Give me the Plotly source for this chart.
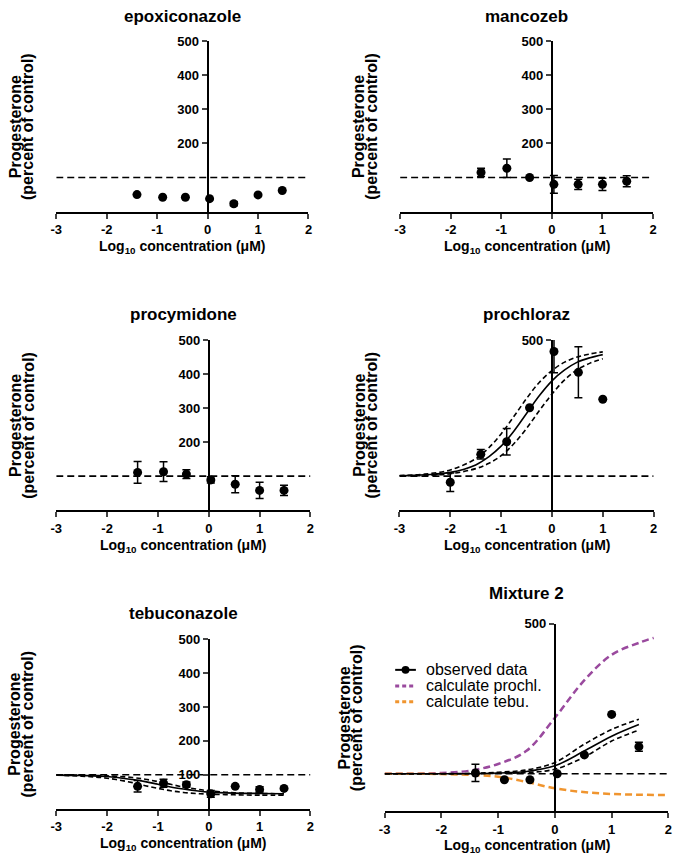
import plotly.graph_objects as go

W, H = 680, 861

# ---------------- data ----------------
conc = [-1.40, -0.89, -0.44, 0.04, 0.52, 1.00, 1.48]

epox_y = [50, 42, 42, 38, 23, 49, 62]
epox_err = [None, None, None, None, 6, None, None]

manc_y = [115, 127, 100, 80, 80, 80, 89]
manc_err = [12, 27, None, 26, 15, 18, 16]

procy_y = [111, 113, 106, 89, 76, 58, 58]
procy_err = [32, 29, 13, 9, 25, 24, 15]

prochl_x = [-2.00, -1.40, -0.89, -0.44, 0.04, 0.52, 1.00]
prochl_y = [82, 164, 201, 301, 466, 405, 326]
prochl_err = [27, 14, 39, None, 62, 75, None]
prochl_fit_x = [-3, -2.5, -2, -1.5, -1.25, -1, -0.75, -0.5, -0.25, 0, 0.25, 0.5, 0.75, 1]
prochl_fit = [101, 104, 111, 133, 156, 188, 232, 284, 336, 380, 412, 435, 448, 457]
prochl_hi = [102, 106, 118, 151, 182, 224, 275, 328, 375, 410, 435, 450, 459, 465]
prochl_lo = [101, 102, 107, 122, 137, 160, 195, 240, 292, 341, 383, 413, 432, 445]

tebu_y = [66, 75, 71, 44, 66, 57, 60]
tebu_err = [17, 12, 8, 10, None, 8, None]
tebu_fit_x = [-3, -2.5, -2, -1.5, -1.25, -1, -0.75, -0.5, -0.25, 0, 0.5, 1, 1.48]
tebu_fit = [99, 98, 95, 86, 80, 72, 64, 58, 53, 49, 46, 45, 44]
tebu_hi = [100, 99, 97, 92, 87, 80, 72, 64, 58, 53, 47, 45, 44]
tebu_lo = [99, 96, 90, 77, 68, 60, 53, 48, 45, 43, 41, 40, 40]

mix_y = [102, 84, 84, 100, 150, 258, 172]
mix_err = [23, None, None, None, None, None, 12]
mix_fit_x = [-3, -2, -1.5, -1, -0.5, 0, 0.5, 1, 1.48]
mix_fit = [100, 100, 100, 102, 106, 121, 159, 200, 231]
mix_hi = [100, 100, 101, 104, 110, 130, 177, 218, 245]
mix_lo = [100, 100, 100, 101, 103, 112, 143, 187, 216]

calc_prochl_x = [-3, -2.5, -2, -1.5, -1, -0.5, 0, 0.5, 1, 1.5, 1.74]
calc_prochl_y = [100, 100, 102, 108, 126, 161, 249, 346, 417, 450, 462]
calc_tebu_x = [-3, -2.5, -2, -1.5, -1, -0.5, 0, 0.5, 1, 1.5, 2]
calc_tebu_y = [100, 100, 99, 97, 92, 78, 61, 51, 46, 44, 43]

control_x = [-3, 2]
control_y = [100, 100]

x_ticks = [-3, -2, -1, 0, 1, 2]
x_ticktext = ["-3", "-2", "-1", "0", "1", "2"]

titles = ["epoxiconazole", "mancozeb", "procymidone", "prochloraz", "tebuconazole", "Mixture 2"]
ytick_sets = [[200, 300, 400, 500], [200, 300, 400, 500], [200, 300, 400, 500],
              [500], [100, 200, 300, 400, 500], [500]]

# ---------------- layout geometry (pixels) ----------------
# (x_left, x_right, y_top(=500), y_bottom(=0))
boxes = [
    (51, 307, 34.3, 206.3),
    (400, 656.7, 34.3, 206.3),
    (51, 309, 335.7, 507.3),
    (399.3, 657.3, 335.7, 507.3),
    (51, 309, 637.3, 808.3),
    (384.3, 672.3, 621.7, 810.8),
]
title_y = [10, 10, 310, 310, 611.7, 591.7]
ytitle_x = [9, 358, 9, 358, 9, 343]
xtitle_off = [36, 36, 36, 36, 36, 35]

FONT = "Liberation Sans, Arial, sans-serif"
fig = go.Figure()
layout = dict(
    width=W, height=H, margin=dict(l=0, r=0, t=0, b=0),
    paper_bgcolor="white", plot_bgcolor="white", showlegend=False,
    font=dict(family=FONT, color="black"),
)
annotations = []
shapes = []

for i, (xl, xr, yt, yb) in enumerate(boxes):
    n = i + 1
    xpos0 = xl + (xr - xl) * 3 / 5
    layout[f"xaxis{n}"] = dict(
        domain=[xl / W, xr / W], anchor=f"y{n}", range=[-3, 2],
        tickvals=x_ticks, ticktext=[f"<b>{t}</b>" for t in x_ticktext],
        ticks="outside", ticklen=5, tickwidth=1.5,
        showline=True, linewidth=2, linecolor="black", showgrid=False, zeroline=False,
        tickfont=dict(size=13, family=FONT), fixedrange=True,
        ticklabeloverflow="allow",
    )
    layout[f"yaxis{n}"] = dict(
        domain=[1 - yb / H, 1 - yt / H], anchor="free", position=xpos0 / W, range=[0, 500],
        tickvals=ytick_sets[i], ticktext=[f"<b>{v}</b>" for v in ytick_sets[i]],
        ticks="outside", ticklen=5, tickwidth=1.5,
        showline=True, linewidth=2, linecolor="black", showgrid=False, zeroline=False,
        tickfont=dict(size=13, family=FONT), fixedrange=True,
        ticklabeloverflow="allow",
    )
    annotations.append(dict(
        x=(xl + xr) / 2 / W, y=1 - title_y[i] / H, xref="paper", yref="paper",
        text=f"<b>{titles[i]}</b>", showarrow=False, font=dict(size=17, family=FONT),
        xanchor="center", yanchor="middle"))
    annotations.append(dict(
        x=(xl + xr) / 2 / W, y=1 - (yb + xtitle_off[i]) / H, xref="paper", yref="paper",
        text="<b>Log<sub>10</sub> concentration (μM)</b>", showarrow=False,
        font=dict(size=14, family=FONT), xanchor="center", yanchor="middle"))
    for k, line in enumerate(["Progesterone", "(percent of control)"]):
        annotations.append(dict(
            x=(ytitle_x[i] + 13 * k) / W, y=1 - (yt + yb) / 2 / H, xref="paper", yref="paper",
            text=f"<b>{line}</b>", showarrow=False, textangle=-90,
            font=dict(size=16, family=FONT), xanchor="center", yanchor="middle"))

def ax(n):
    return dict(xaxis=f"x{n}", yaxis=f"y{n}")

def control(n):
    fig.add_trace(go.Scatter(x=control_x, y=control_y, mode="lines",
                             line=dict(color="black", width=1.6, dash="7px,4px"), **ax(n)))

def points(n, xs, ys, errs):
    fig.add_trace(go.Scatter(
        x=xs, y=ys, mode="markers", marker=dict(color="black", size=9),
        error_y=dict(type="data", array=errs, visible=True, color="black", thickness=1.5, width=4),
        **ax(n)))

def curve(n, xs, ys, dash=None, color="black", width=1.6):
    fig.add_trace(go.Scatter(x=xs, y=ys, mode="lines", line_shape="spline",
                             line=dict(color=color, width=width, dash=dash), **ax(n)))

# panel 1
control(1)
points(1, conc, epox_y, epox_err)
# panel 2
control(2)
points(2, conc, manc_y, manc_err)
# panel 3
control(3)
points(3, conc, procy_y, procy_err)
# panel 4
control(4)
curve(4, prochl_fit_x, prochl_fit)
curve(4, prochl_fit_x, prochl_hi, dash="5px,3px")
curve(4, prochl_fit_x, prochl_lo, dash="5px,3px")
points(4, prochl_x, prochl_y, prochl_err)
# panel 5
control(5)
curve(5, tebu_fit_x, tebu_fit)
curve(5, tebu_fit_x, tebu_hi, dash="5px,3px")
curve(5, tebu_fit_x, tebu_lo, dash="5px,3px")
points(5, conc, tebu_y, tebu_err)
# panel 6
PURPLE = "#9A4A9E"
ORANGE = "#F0952F"
control(6)
curve(6, calc_prochl_x, calc_prochl_y, dash="7px,4px", color=PURPLE, width=2.5)
curve(6, calc_tebu_x, calc_tebu_y, dash="7px,4px", color=ORANGE, width=2.5)
curve(6, mix_fit_x, mix_fit)
curve(6, mix_fit_x, mix_hi, dash="5px,3px")
curve(6, mix_fit_x, mix_lo, dash="5px,3px")
points(6, conc, mix_y, mix_err)

# manual legend for panel 6
leg_items = [("observed data", "black", None), ("calculate prochl.", PURPLE, "dash"),
             ("calculate tebu.", ORANGE, "dash")]
leg_rows = [668.3, 684.5, 700.5]
for (label, col, dsh), ry in zip(leg_items, leg_rows):
    shapes.append(dict(type="line", xref="paper", yref="paper",
                       x0=395 / W, x1=416 / W, y0=1 - ry / H, y1=1 - ry / H,
                       line=dict(color=col, width=2 if dsh is None else 3,
                                 dash="solid" if dsh is None else "4px,3px")))
    if dsh is None:
        shapes.append(dict(type="circle", xref="paper", yref="paper",
                           x0=(405.5 - 4) / W, x1=(405.5 + 4) / W,
                           y0=1 - (ry + 4) / H, y1=1 - (ry - 4) / H,
                           fillcolor="black", line=dict(color="black", width=0)))
    annotations.append(dict(x=424 / W, y=1 - ry / H, xref="paper", yref="paper",
                            text=label, showarrow=False, xanchor="left", yanchor="middle",
                            font=dict(size=16, family=FONT)))

layout["annotations"] = annotations
layout["shapes"] = shapes
fig.update_layout(**layout)
fig.write_html("out.html", config={"displayModeBar": False},
               post_script="document.body.style.margin='0px';document.body.style.overflow='hidden';")
